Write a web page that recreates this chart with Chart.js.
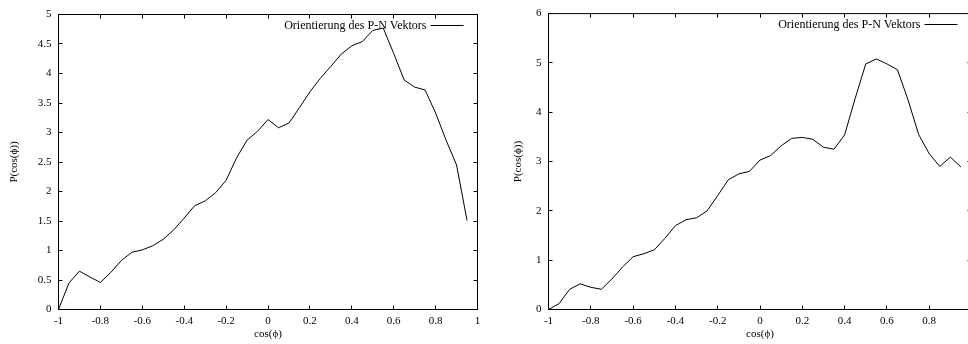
<!DOCTYPE html>
<html lang="de">
<head>
    <meta charset="UTF-8">
    <title>Orientierung des P-N Vektors</title>
    <style>
        body {
            margin: 0;
            width: 968px;
            height: 344px;
            overflow: hidden;
            background: #fff;
            position: relative;
        }

        .plot {
            position: absolute;
            top: 0;
        }

        #leftPlot { left: 0; }
        #rightPlot { left: 490px; }
    </style>
</head>
<body>

    <div class="plot" id="leftPlot"><canvas id="leftChart" width="490" height="344"></canvas></div>
    <div class="plot" id="rightPlot"><canvas id="rightChart" width="495" height="344"></canvas></div>

    <script src="https://cdn.jsdelivr.net/npm/chart.js"></script>
    <script>
        // cos(phi) bins, one every 0.05
        const cosPhi = [
            -1, -0.95, -0.9, -0.85, -0.8, -0.75, -0.7, -0.65, -0.6, -0.55,
            -0.5, -0.45, -0.4, -0.35, -0.3, -0.25, -0.2, -0.15, -0.1, -0.05,
            0, 0.05, 0.1, 0.15, 0.2, 0.25, 0.3, 0.35, 0.4, 0.45,
            0.5, 0.55, 0.6, 0.65, 0.7, 0.75, 0.8, 0.85, 0.9, 0.95
        ];

        // P(cos(phi)), first run
        const leftP = [
            0, 0.45, 0.65, 0.55, 0.46, 0.63, 0.83, 0.97, 1.01, 1.08,
            1.19, 1.35, 1.55, 1.76, 1.84, 1.98, 2.19, 2.57, 2.87, 3.02,
            3.22, 3.08, 3.16, 3.42, 3.69, 3.92, 4.12, 4.33, 4.47, 4.54,
            4.73, 4.77, 4.34, 3.89, 3.77, 3.72, 3.33, 2.87, 2.45, 1.51
        ];

        // P(cos(phi)), second run
        const rightP = [
            0, 0.12, 0.41, 0.52, 0.45, 0.41, 0.62, 0.86, 1.07, 1.13,
            1.21, 1.44, 1.70, 1.82, 1.86, 2.00, 2.31, 2.63, 2.75, 2.80,
            3.03, 3.12, 3.32, 3.47, 3.49, 3.45, 3.29, 3.25, 3.54, 4.28,
            4.98, 5.08, 4.98, 4.86, 4.25, 3.55, 3.16, 2.90, 3.09, 2.89
        ];

        const xTicks = [-1, -0.8, -0.6, -0.4, -0.2, 0, 0.2, 0.4, 0.6, 0.8, 1];
        const xTickLabels = ['-1', '-0.8', '-0.6', '-0.4', '-0.2', '0', '0.2', '0.4', '0.6', '0.8', '1'];

        const leftYTicks = [0, 0.5, 1, 1.5, 2, 2.5, 3, 3.5, 4, 4.5, 5];
        const leftYTickLabels = ['0', '0.5', '1', '1.5', '2', '2.5', '3', '3.5', '4', '4.5', '5'];

        const rightYTicks = [0, 1, 2, 3, 4, 5, 6];
        const rightYTickLabels = ['0', '1', '2', '3', '4', '5', '6'];

        const seriesLabel = 'Orientierung des P-N Vektors';
        const xTitle = 'cos(\u03d5)';
        const yTitle = 'P(cos(\u03d5))';

        Chart.defaults.font.family = '"Liberation Serif", "DejaVu Serif", serif';
        Chart.defaults.font.size = 11;
        Chart.defaults.color = '#000';

        // gnuplot style box: border plus inward ticks on all four sides, key in the top right corner
        const gnuplotFrame = {
            id: 'gnuplotFrame',
            afterDatasetsDraw(chart) {
                const { ctx, chartArea: a, scales: { x, y } } = chart;
                const len = 4;
                ctx.save();
                ctx.strokeStyle = '#000';
                ctx.lineWidth = 1;
                ctx.beginPath();
                x.ticks.forEach(t => {
                    const px = Math.floor(x.getPixelForValue(t.value)) + 0.5;
                    ctx.moveTo(px, a.bottom); ctx.lineTo(px, a.bottom - len);
                    ctx.moveTo(px, a.top); ctx.lineTo(px, a.top + len);
                });
                y.ticks.forEach(t => {
                    const py = Math.floor(y.getPixelForValue(t.value)) + 0.5;
                    ctx.moveTo(a.left, py); ctx.lineTo(a.left + len, py);
                    ctx.moveTo(a.right, py); ctx.lineTo(a.right - len, py);
                });
                ctx.stroke();
                ctx.strokeRect(a.left, a.top, a.right - a.left, a.bottom - a.top);

                // key
                const ds = chart.data.datasets[0];
                const ky = Math.floor(a.top + 11) + 0.5;
                ctx.font = '12px "Liberation Serif", "DejaVu Serif", serif';
                ctx.fillStyle = '#000';
                ctx.textAlign = 'right';
                ctx.textBaseline = 'middle';
                ctx.fillText(ds.label, a.right - 51, ky);
                ctx.beginPath();
                ctx.moveTo(a.right - 47, ky);
                ctx.lineTo(a.right - 14, ky);
                ctx.stroke();
                ctx.restore();
            }
        };

        function makeChart(id, values, yTicks, yTickLabels, yMax, box) {
            const ctx = document.getElementById(id).getContext('2d');
            return new Chart(ctx, {
                type: 'line',
                data: {
                    datasets: [{
                        label: seriesLabel,
                        data: cosPhi.map((c, i) => ({ x: c, y: values[i] })),
                        borderColor: '#000',
                        borderWidth: 1,
                        pointRadius: 0,
                        tension: 0,
                        fill: false
                    }]
                },
                options: {
                    responsive: false,
                    animation: false,
                    events: [],
                    layout: {
                        padding: { left: 0, top: box.top, right: box.right, bottom: 0 }
                    },
                    plugins: {
                        legend: { display: false },
                        tooltip: { enabled: false }
                    },
                    scales: {
                        x: {
                            type: 'linear',
                            min: -1,
                            max: 1,
                            grid: { display: false, drawTicks: false, tickLength: 0 },
                            border: { display: false },
                            afterBuildTicks: s => { s.ticks = xTicks.map(v => ({ value: v })); },
                            afterFit: s => { s.height = 344 - box.bottom; },
                            ticks: {
                                padding: 5,
                                maxRotation: 0,
                                autoSkip: false,
                                callback: (v, i) => xTickLabels[i]
                            },
                            title: {
                                display: true,
                                text: xTitle,
                                font: { size: 11 },
                                padding: { top: 0, bottom: 3 }
                            }
                        },
                        y: {
                            type: 'linear',
                            min: 0,
                            max: yMax,
                            grid: { display: false, drawTicks: false, tickLength: 0 },
                            border: { display: false },
                            afterBuildTicks: s => { s.ticks = yTicks.map(v => ({ value: v })); },
                            afterFit: s => { s.width = box.left; },
                            ticks: {
                                padding: 7,
                                autoSkip: false,
                                callback: (v, i) => yTickLabels[i]
                            },
                            title: {
                                display: true,
                                text: yTitle,
                                font: { size: 11 },
                                padding: { top: box.titleOffset, bottom: 0 }
                            }
                        }
                    }
                },
                plugins: [gnuplotFrame]
            });
        }

        makeChart('leftChart', leftP, leftYTicks, leftYTickLabels, 5,
            { left: 58.5, top: 14.5, right: 12.5, bottom: 309.5, titleOffset: 7.4 });
        makeChart('rightChart', rightP, rightYTicks, rightYTickLabels, 6,
            { left: 58.5, top: 11.5, right: 13.5, bottom: 309.5, titleOffset: 21.7 });
    </script>
</body>
</html>
